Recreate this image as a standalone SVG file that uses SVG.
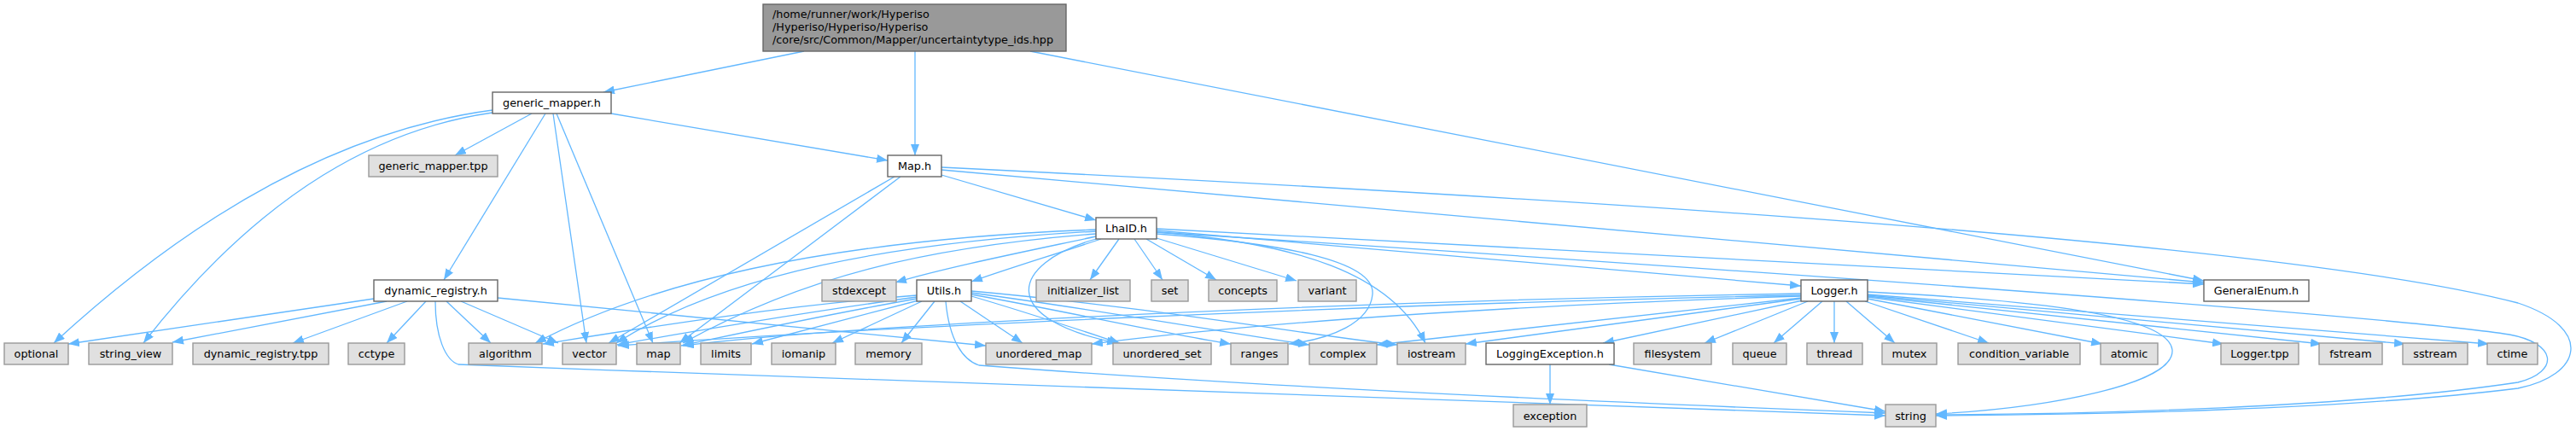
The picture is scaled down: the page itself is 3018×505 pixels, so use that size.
<svg xmlns="http://www.w3.org/2000/svg" width="3018" height="505" viewBox="0 0 3018 505">
<style>
.e{fill:none;stroke:#63b8ff;stroke-width:1.3;marker-end:url(#ah)}
.w rect{fill:#ffffff;stroke:#666666;stroke-width:1.4}
.g rect{fill:#e0e0e0;stroke:#999999;stroke-width:1.4}
.r rect{fill:#999999;stroke:#666666;stroke-width:1.4}
text{font-family:"DejaVu Sans","Liberation Sans",sans-serif;font-size:12.8px;fill:#000000}
.c{text-anchor:middle}
</style>
<defs>
<marker id="ah" markerUnits="userSpaceOnUse" markerWidth="13" markerHeight="10" refX="13" refY="5" orient="auto">
<path d="M0,0 L13,5 L0,10 z" fill="#63b8ff"/>
</marker>
</defs>
<rect x="0" y="0" width="3018" height="505" fill="#ffffff"/>
<g id="connectors">
<path class="e" d="M942,60 L707,108"/>
<path class="e" d="M1072,60 L1072,182"/>
<path class="e" d="M1207,60 L2582,329"/>
<path class="e" d="M1103,199 L2582,331"/>
<path class="e" d="M1355,268 L2582,333"/>
<path class="e" d="M577,129 C420,150 250,230 63,402"/>
<path class="e" d="M577,132 C450,150 310,220 168,402"/>
<path class="e" d="M623,133 L533,182"/>
<path class="e" d="M639,133 L520,328"/>
<path class="e" d="M648,133 L687,402"/>
<path class="e" d="M652,133 L765,402"/>
<path class="e" d="M716,133 L1040,188"/>
<path class="e" d="M438,350 L80,403"/>
<path class="e" d="M453,353 L202,401"/>
<path class="e" d="M477,353 L343,402"/>
<path class="e" d="M499,353 L453,402"/>
<path class="e" d="M523,353 L575,402"/>
<path class="e" d="M540,353 L654,402"/>
<path class="e" d="M583,349 L1155,405"/>
<path class="e" d="M510,353 C510,395 522,422 537,427 C1200,452 1900,480 2209,487"/>
<path class="e" d="M1048,207 L713,402"/>
<path class="e" d="M1055,207 L796,402"/>
<path class="e" d="M1103,205 L1284,258"/>
<path class="e" d="M1103,196 C2000,240 2700,290 2950,355 C3040,385 3025,440 2950,455 C2750,480 2450,486 2268,487"/>
<path class="e" d="M1355,272 C2100,320 2800,370 2940,392 C2995,402 3000,435 2950,448 C2750,478 2450,485 2268,486"/>
<path class="e" d="M1284,277 C1200,295 1110,313 1049,331"/>
<path class="e" d="M1290,280 C1230,300 1180,315 1138,330"/>
<path class="e" d="M1311,280 L1277,328"/>
<path class="e" d="M1329,280 L1362,328"/>
<path class="e" d="M1343,280 L1425,328"/>
<path class="e" d="M1355,279 L1519,329"/>
<path class="e" d="M1284,269 C1050,278 800,310 627,402"/>
<path class="e" d="M1284,271 C1050,284 850,320 722,402"/>
<path class="e" d="M1284,274 C1080,290 940,325 800,402"/>
<path class="e" d="M1284,280 C1180,310 1170,375 1310,402"/>
<path class="e" d="M1355,274 C1500,285 1612,305 1608,345 C1605,378 1560,397 1510,403"/>
<path class="e" d="M1355,272 C1520,285 1630,320 1670,402"/>
<path class="e" d="M1355,270 L2110,335"/>
<path class="e" d="M1074,346 C900,360 750,385 636,403"/>
<path class="e" d="M1074,348 C950,365 800,390 723,404"/>
<path class="e" d="M1074,350 C960,370 860,392 798,405"/>
<path class="e" d="M1076,352 L881,403"/>
<path class="e" d="M1080,353 L975,402"/>
<path class="e" d="M1095,353 L1056,402"/>
<path class="e" d="M1125,353 L1198,402"/>
<path class="e" d="M1138,347 C1200,365 1260,385 1312,402"/>
<path class="e" d="M1138,345 C1250,365 1360,390 1442,403"/>
<path class="e" d="M1138,343 C1300,365 1450,392 1534,404"/>
<path class="e" d="M1138,341 C1350,360 1550,395 1637,404"/>
<path class="e" d="M1108,353 C1112,398 1128,422 1147,428 C1500,455 1900,472 2209,484"/>
<path class="e" d="M2110,344 C1600,352 1000,380 800,405"/>
<path class="e" d="M2110,346 C1600,356 1000,385 724,405"/>
<path class="e" d="M2110,347 C1800,357 1500,375 1279,403"/>
<path class="e" d="M2110,349 L1613,404"/>
<path class="e" d="M2110,350 L1717,403"/>
<path class="e" d="M2112,352 L1878,402"/>
<path class="e" d="M2118,353 L1997,402"/>
<path class="e" d="M2135,353 L2078,402"/>
<path class="e" d="M2149,353 L2149,402"/>
<path class="e" d="M2163,353 L2220,402"/>
<path class="e" d="M2185,353 L2330,402"/>
<path class="e" d="M2188,350 L2463,403"/>
<path class="e" d="M2188,348 L2605,403"/>
<path class="e" d="M2188,347 L2720,403"/>
<path class="e" d="M2188,346 L2818,403"/>
<path class="e" d="M2188,345 L2916,403"/>
<path class="e" d="M2188,342 C2350,350 2540,365 2545,410 C2548,450 2400,478 2268,485"/>
<path class="e" d="M1816,427 L1816,474"/>
<path class="e" d="M1885,427 L2209,482"/>
</g>
<g id="root" class="r"><rect x="894" y="5" width="355" height="55"/>
<text x="905" y="21">/home/runner/work/Hyperiso</text>
<text x="905" y="36">/Hyperiso/Hyperiso/Hyperiso</text>
<text x="905" y="51">/core/src/Common/Mapper/uncertaintytype_ids.hpp</text></g>
<g id="generic_mapper_h" class="w"><rect x="577" y="108" width="139" height="25"/><text class="c" x="646.5" y="125">generic_mapper.h</text></g>
<g id="generic_mapper_tpp" class="g"><rect x="432" y="182" width="151" height="25"/><text class="c" x="507.5" y="199">generic_mapper.tpp</text></g>
<g id="dynamic_registry_h" class="w"><rect x="438" y="328" width="145" height="25"/><text class="c" x="510.5" y="345">dynamic_registry.h</text></g>
<g id="Map_h" class="w"><rect x="1040" y="182" width="63" height="25"/><text class="c" x="1071.5" y="199">Map.h</text></g>
<g id="LhaID_h" class="w"><rect x="1284" y="255" width="71" height="25"/><text class="c" x="1319.5" y="272">LhaID.h</text></g>
<g id="stdexcept" class="g"><rect x="963" y="328" width="87" height="25"/><text class="c" x="1006.5" y="345">stdexcept</text></g>
<g id="Utils_h" class="w"><rect x="1074" y="328" width="64" height="25"/><text class="c" x="1106" y="345">Utils.h</text></g>
<g id="initializer_list" class="g"><rect x="1214" y="328" width="110" height="25"/><text class="c" x="1269" y="345">initializer_list</text></g>
<g id="set" class="g"><rect x="1349" y="328" width="43" height="25"/><text class="c" x="1370.5" y="345">set</text></g>
<g id="concepts" class="g"><rect x="1416" y="328" width="80" height="25"/><text class="c" x="1456" y="345">concepts</text></g>
<g id="variant" class="g"><rect x="1521" y="328" width="68" height="25"/><text class="c" x="1555" y="345">variant</text></g>
<g id="Logger_h" class="w"><rect x="2110" y="328" width="78" height="25"/><text class="c" x="2149" y="345">Logger.h</text></g>
<g id="GeneralEnum_h" class="w"><rect x="2582" y="328" width="123" height="25"/><text class="c" x="2643.5" y="345">GeneralEnum.h</text></g>
<g id="optional" class="g"><rect x="5" y="402" width="75" height="25"/><text class="c" x="42.5" y="419">optional</text></g>
<g id="string_view" class="g"><rect x="104" y="402" width="98" height="25"/><text class="c" x="153" y="419">string_view</text></g>
<g id="dynamic_registry_tpp" class="g"><rect x="226" y="402" width="159" height="25"/><text class="c" x="305.5" y="419">dynamic_registry.tpp</text></g>
<g id="cctype" class="g"><rect x="408" y="402" width="66" height="25"/><text class="c" x="441" y="419">cctype</text></g>
<g id="algorithm" class="g"><rect x="549" y="402" width="86" height="25"/><text class="c" x="592" y="419">algorithm</text></g>
<g id="vector" class="g"><rect x="659" y="402" width="63" height="25"/><text class="c" x="690.5" y="419">vector</text></g>
<g id="map" class="g"><rect x="746" y="402" width="51" height="25"/><text class="c" x="771.5" y="419">map</text></g>
<g id="limits" class="g"><rect x="821" y="402" width="59" height="25"/><text class="c" x="850.5" y="419">limits</text></g>
<g id="iomanip" class="g"><rect x="904" y="402" width="75" height="25"/><text class="c" x="941.5" y="419">iomanip</text></g>
<g id="memory" class="g"><rect x="1002" y="402" width="78" height="25"/><text class="c" x="1041" y="419">memory</text></g>
<g id="unordered_map" class="g"><rect x="1155" y="402" width="124" height="25"/><text class="c" x="1217" y="419">unordered_map</text></g>
<g id="unordered_set" class="g"><rect x="1304" y="402" width="115" height="25"/><text class="c" x="1361.5" y="419">unordered_set</text></g>
<g id="ranges" class="g"><rect x="1442" y="402" width="67" height="25"/><text class="c" x="1475.5" y="419">ranges</text></g>
<g id="complex" class="g"><rect x="1534" y="402" width="79" height="25"/><text class="c" x="1573.5" y="419">complex</text></g>
<g id="iostream" class="g"><rect x="1637" y="402" width="80" height="25"/><text class="c" x="1677" y="419">iostream</text></g>
<g id="LoggingException_h" class="w"><rect x="1741" y="402" width="150" height="25"/><text class="c" x="1816" y="419">LoggingException.h</text></g>
<g id="filesystem" class="g"><rect x="1914" y="402" width="91" height="25"/><text class="c" x="1959.5" y="419">filesystem</text></g>
<g id="queue" class="g"><rect x="2030" y="402" width="63" height="25"/><text class="c" x="2061.5" y="419">queue</text></g>
<g id="thread" class="g"><rect x="2117" y="402" width="65" height="25"/><text class="c" x="2149.5" y="419">thread</text></g>
<g id="mutex" class="g"><rect x="2205" y="402" width="64" height="25"/><text class="c" x="2237" y="419">mutex</text></g>
<g id="condition_variable" class="g"><rect x="2294" y="402" width="143" height="25"/><text class="c" x="2365.5" y="419">condition_variable</text></g>
<g id="atomic" class="g"><rect x="2461" y="402" width="67" height="25"/><text class="c" x="2494.5" y="419">atomic</text></g>
<g id="Logger_tpp" class="g"><rect x="2602" y="402" width="91" height="25"/><text class="c" x="2647.5" y="419">Logger.tpp</text></g>
<g id="fstream" class="g"><rect x="2717" y="402" width="74" height="25"/><text class="c" x="2754" y="419">fstream</text></g>
<g id="sstream" class="g"><rect x="2815" y="402" width="76" height="25"/><text class="c" x="2853" y="419">sstream</text></g>
<g id="ctime" class="g"><rect x="2914" y="402" width="59" height="25"/><text class="c" x="2943.5" y="419">ctime</text></g>
<g id="exception" class="g"><rect x="1773" y="474" width="86" height="26"/><text class="c" x="1816" y="492">exception</text></g>
<g id="string" class="g"><rect x="2209" y="474" width="59" height="26"/><text class="c" x="2238.5" y="492">string</text></g>
</svg>
